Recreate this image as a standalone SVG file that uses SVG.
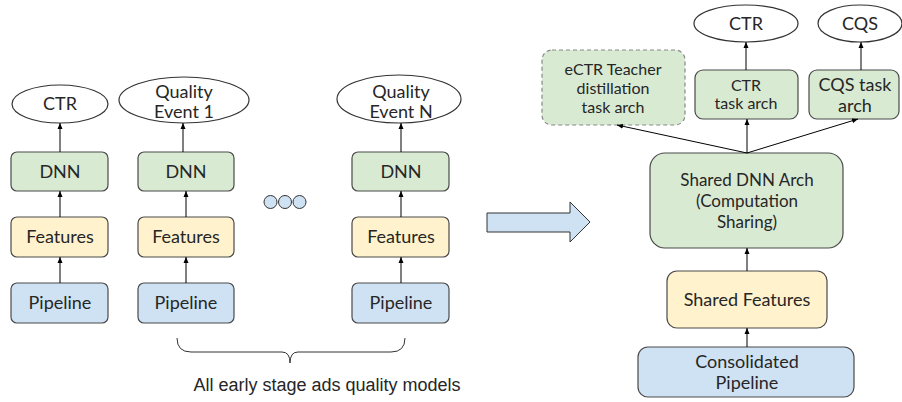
<svg xmlns="http://www.w3.org/2000/svg" width="902" height="402" viewBox="0 0 902 402">
<defs>
<marker id="ah" viewBox="0 0 6 6" refX="6" refY="3" markerWidth="6" markerHeight="6" orient="auto" markerUnits="userSpaceOnUse">
<path d="M0,0.5 L6,3 L0,5.5 Z" fill="#000"/>
</marker>
<style>
text{font-family:Lato,"Noto Sans","Liberation Sans",sans-serif;fill:#262626;text-anchor:middle;font-size:18px}
.g{fill:#d9ead3;stroke:#4a4a4a;stroke-width:1.2}
.y{fill:#fff2cc;stroke:#4a4a4a;stroke-width:1.2}
.b{fill:#cfe2f3;stroke:#4a4a4a;stroke-width:1.2}
.e{fill:#fff;stroke:#333;stroke-width:1.2}
.c line{stroke:#000;stroke-width:1;marker-end:url(#ah)}
.m{font-size:17px}
.sm{font-size:16px}
</style>
</defs>
<rect width="902" height="402" fill="#fff"/>

<g id="ctr-left"><ellipse class="e" cx="60" cy="104" rx="48" ry="19"/><text x="60" y="110">CTR</text></g>
<g id="qe1"><ellipse class="e" cx="184" cy="100" rx="65" ry="23"/><text x="184" y="98">Quality</text><text x="184" y="118">Event 1</text></g>
<g id="qen"><ellipse class="e" cx="399" cy="99" rx="62" ry="24"/><text x="401" y="98">Quality</text><text x="401" y="118">Event N</text></g>

<g id="dnn1"><rect class="g" x="11" y="152" width="97" height="39" rx="6"/><text x="60" y="178">DNN</text></g>
<g id="dnn2"><rect class="g" x="138" y="152" width="96" height="39" rx="6"/><text x="186" y="178">DNN</text></g>
<g id="dnnN"><rect class="g" x="352" y="152" width="97" height="39" rx="6"/><text x="401" y="178">DNN</text></g>

<g id="feat1"><rect class="y" x="11" y="217" width="97" height="40" rx="6"/><text x="60" y="243">Features</text></g>
<g id="feat2"><rect class="y" x="138" y="217" width="96" height="40" rx="6"/><text x="186" y="243">Features</text></g>
<g id="featN"><rect class="y" x="352" y="217" width="97" height="40" rx="6"/><text x="401" y="243">Features</text></g>

<g id="pipe1"><rect class="b" x="11" y="283" width="97" height="40" rx="6"/><text x="60" y="309">Pipeline</text></g>
<g id="pipe2"><rect class="b" x="138" y="283" width="96" height="40" rx="6"/><text x="186" y="309">Pipeline</text></g>
<g id="pipeN"><rect class="b" x="352" y="283" width="97" height="40" rx="6"/><text x="401" y="309">Pipeline</text></g>

<g id="dots">
<circle cx="270.5" cy="202" r="6.5" fill="#cfe2f3" stroke="#333" stroke-width="1"/>
<circle cx="285" cy="202" r="6.5" fill="#cfe2f3" stroke="#333" stroke-width="1"/>
<circle cx="299.5" cy="202" r="6.5" fill="#cfe2f3" stroke="#333" stroke-width="1"/>
</g>

<g id="brace">
<path d="M177,338 Q177,352 191,352 L282,352 Q290,352 290,363 Q290,352 298,352 L391,352 Q405,352 405,338" fill="none" stroke="#333" stroke-width="1"/>
<text x="327" y="391" style="font-family:'Liberation Sans',Arial,sans-serif;font-size:18px">All early stage ads quality models</text>
</g>

<g id="big-arrow"><path d="M487,213 L570,213 L570,202 L590,222 L570,242 L570,232 L487,232 Z" fill="#cfe2f3" stroke="#333" stroke-width="1"/></g>

<g id="ctr-right"><ellipse class="e" cx="746" cy="23.5" rx="52" ry="18.5"/><text x="746" y="30">CTR</text></g>
<g id="cqs"><ellipse class="e" cx="860" cy="23.5" rx="42" ry="18.5"/><text x="860" y="30">CQS</text></g>

<g id="ectr"><rect class="g" x="542" y="50" width="143" height="75" rx="10" style="stroke:#888;stroke-dasharray:4,3"/>
<text class="sm" x="613" y="75">eCTR Teacher</text><text class="sm" x="613" y="94">distillation</text><text class="sm" x="613" y="113">task arch</text></g>
<g id="ctr-task"><rect class="g" x="695" y="70" width="103" height="49" rx="8"/><text class="sm" x="746" y="91">CTR</text><text class="sm" x="746" y="109">task arch</text></g>
<g id="cqs-task"><rect class="g" x="809" y="70" width="90" height="49" rx="8"/><text x="855" y="91">CQS task</text><text x="855" y="112">arch</text></g>

<g id="shared-dnn"><rect class="g" x="650" y="153" width="193" height="95" rx="15"/>
<text class="m" x="747" y="186">Shared DNN Arch</text><text class="m" x="747" y="207">(Computation</text><text class="m" x="747" y="228">Sharing)</text></g>
<g id="shared-feat"><rect class="y" x="667" y="271" width="160" height="57" rx="10"/><text x="747" y="306">Shared Features</text></g>
<g id="consolidated"><rect class="b" x="638" y="347" width="216" height="50" rx="10"/><text x="747" y="368">Consolidated</text><text x="747" y="389">Pipeline</text></g>

<g id="connectors" class="c">
<line x1="60" y1="152" x2="60" y2="123"/>
<line x1="183" y1="152" x2="183" y2="123"/>
<line x1="401" y1="152" x2="401" y2="123"/>
<line x1="60" y1="217" x2="60" y2="191"/>
<line x1="186" y1="217" x2="186" y2="191"/>
<line x1="401" y1="217" x2="401" y2="191"/>
<line x1="60" y1="283" x2="60" y2="257"/>
<line x1="186" y1="283" x2="186" y2="257"/>
<line x1="401" y1="283" x2="401" y2="257"/>
<line x1="746" y1="70" x2="746" y2="42"/>
<line x1="861" y1="70" x2="861" y2="42"/>
<line x1="747" y1="153" x2="617" y2="125"/>
<line x1="747" y1="153" x2="747" y2="119"/>
<line x1="747" y1="153" x2="858" y2="119"/>
<line x1="747" y1="271" x2="747" y2="248"/>
<line x1="747" y1="347" x2="747" y2="328"/>
</g>
</svg>
